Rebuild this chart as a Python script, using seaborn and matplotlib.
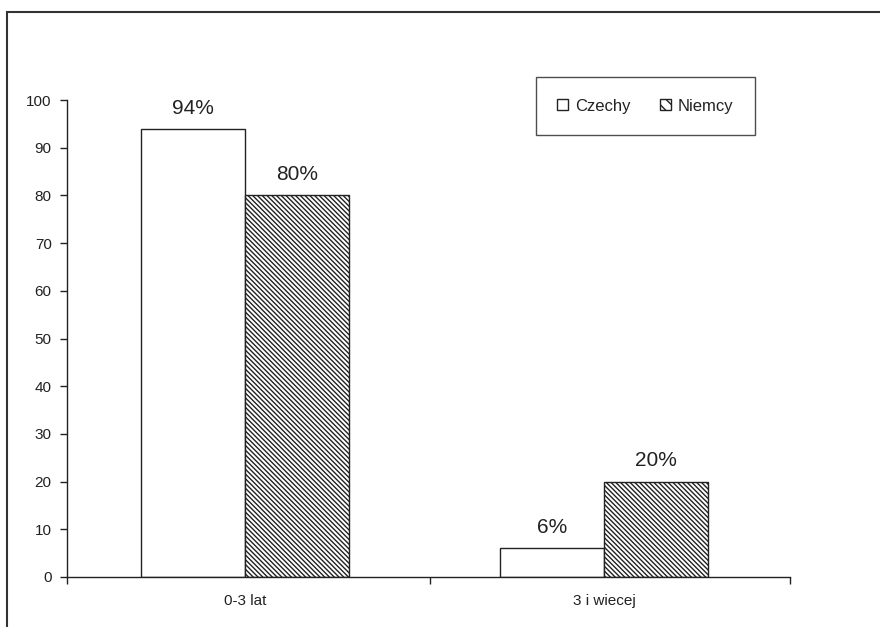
import matplotlib
matplotlib.use("Agg")
import matplotlib.pyplot as plt
from matplotlib.patches import Rectangle
import seaborn as sns
import pandas as pd

# Data
categories = ["0-3 lat", "3 i wiecej"]
czechy = [94, 6]
niemcy = [80, 20]
series_names = ["Czechy", "Niemcy"]
yticks = list(range(0, 101, 10))

df = pd.DataFrame({
    "grupa": categories * 2,
    "kraj": [series_names[0]] * 2 + [series_names[1]] * 2,
    "wartosc": czechy + niemcy,
})

sns.set_style("white")
plt.rcParams["font.family"] = ["Liberation Sans", "DejaVu Sans"]
plt.rcParams["hatch.linewidth"] = 1.0
plt.rcParams["hatch.color"] = "#3a3a3a"

fig = plt.figure(figsize=(8.8, 6.27), dpi=100)
ax = fig.add_axes([67 / 880, 50 / 627, 723 / 880, 477 / 627])

sns.barplot(data=df, x="grupa", y="wartosc", hue="kraj", order=categories,
            hue_order=series_names, palette=["white", "white"], width=0.58,
            edgecolor="#222222", linewidth=1.0, saturation=1, ax=ax, legend=True)

hatch = "\\" * 7
for container, name in zip(ax.containers, series_names):
    for bar in container:
        if name == "Niemcy":
            bar.set_hatch(hatch)
        ax.annotate(f"{bar.get_height():.0f}%",
                    (bar.get_x() + bar.get_width() / 2, bar.get_height()),
                    xytext=(0, 8), textcoords="offset points",
                    ha="center", va="bottom", fontsize=15, color="#222222")

# Axes styling
x_lo, x_hi = -0.496, 1.518
ax.set_xlim(x_lo, x_hi)
ax.set_ylim(0, 100)
ax.set_yticks(yticks)
ax.set_xticks([x_lo, 0.515, x_hi])
ax.set_xticklabels([])
ax.set_xticks([0, 1], minor=True)
ax.set_xticklabels(categories, minor=True, fontsize=11, color="#222222")
ax.tick_params(axis="x", which="minor", length=0, pad=12)
ax.tick_params(axis="x", which="major", direction="out", length=5, width=1, color="#222222", bottom=True)
ax.tick_params(axis="y", direction="out", length=5, width=1, color="#222222", left=True,
               labelsize=11, labelcolor="#222222", pad=6)
ax.set_xlabel("")
ax.set_ylabel("")
for side in ["top", "right"]:
    ax.spines[side].set_visible(False)
for side in ["left", "bottom"]:
    ax.spines[side].set_color("#222222")
    ax.spines[side].set_linewidth(1.0)

# Legend
handles, labels = ax.get_legend_handles_labels()
for h in handles:
    h.set_edgecolor("#222222")
    h.set_linewidth(1.0)
handles[1].set_hatch("\\" * 3)
leg = ax.legend(handles, labels, ncol=2, loc="center",
                bbox_to_anchor=(0.8, 0.987), frameon=True, fancybox=False,
                handlelength=0.65, handleheight=0.65, handletextpad=0.4,
                columnspacing=1.8, borderpad=1.3, fontsize=12,
                edgecolor="#222222")
leg.get_frame().set_linewidth(1.0)
for t in leg.get_texts():
    t.set_color("#222222")

# Outer chart frame
fig.add_artist(Rectangle((7 / 880, -0.1), 1.0, 1.1 - 12 / 627,
                         transform=fig.transFigure, fill=False,
                         edgecolor="#333333", linewidth=1.5))

fig.savefig("out.png", dpi=100)
